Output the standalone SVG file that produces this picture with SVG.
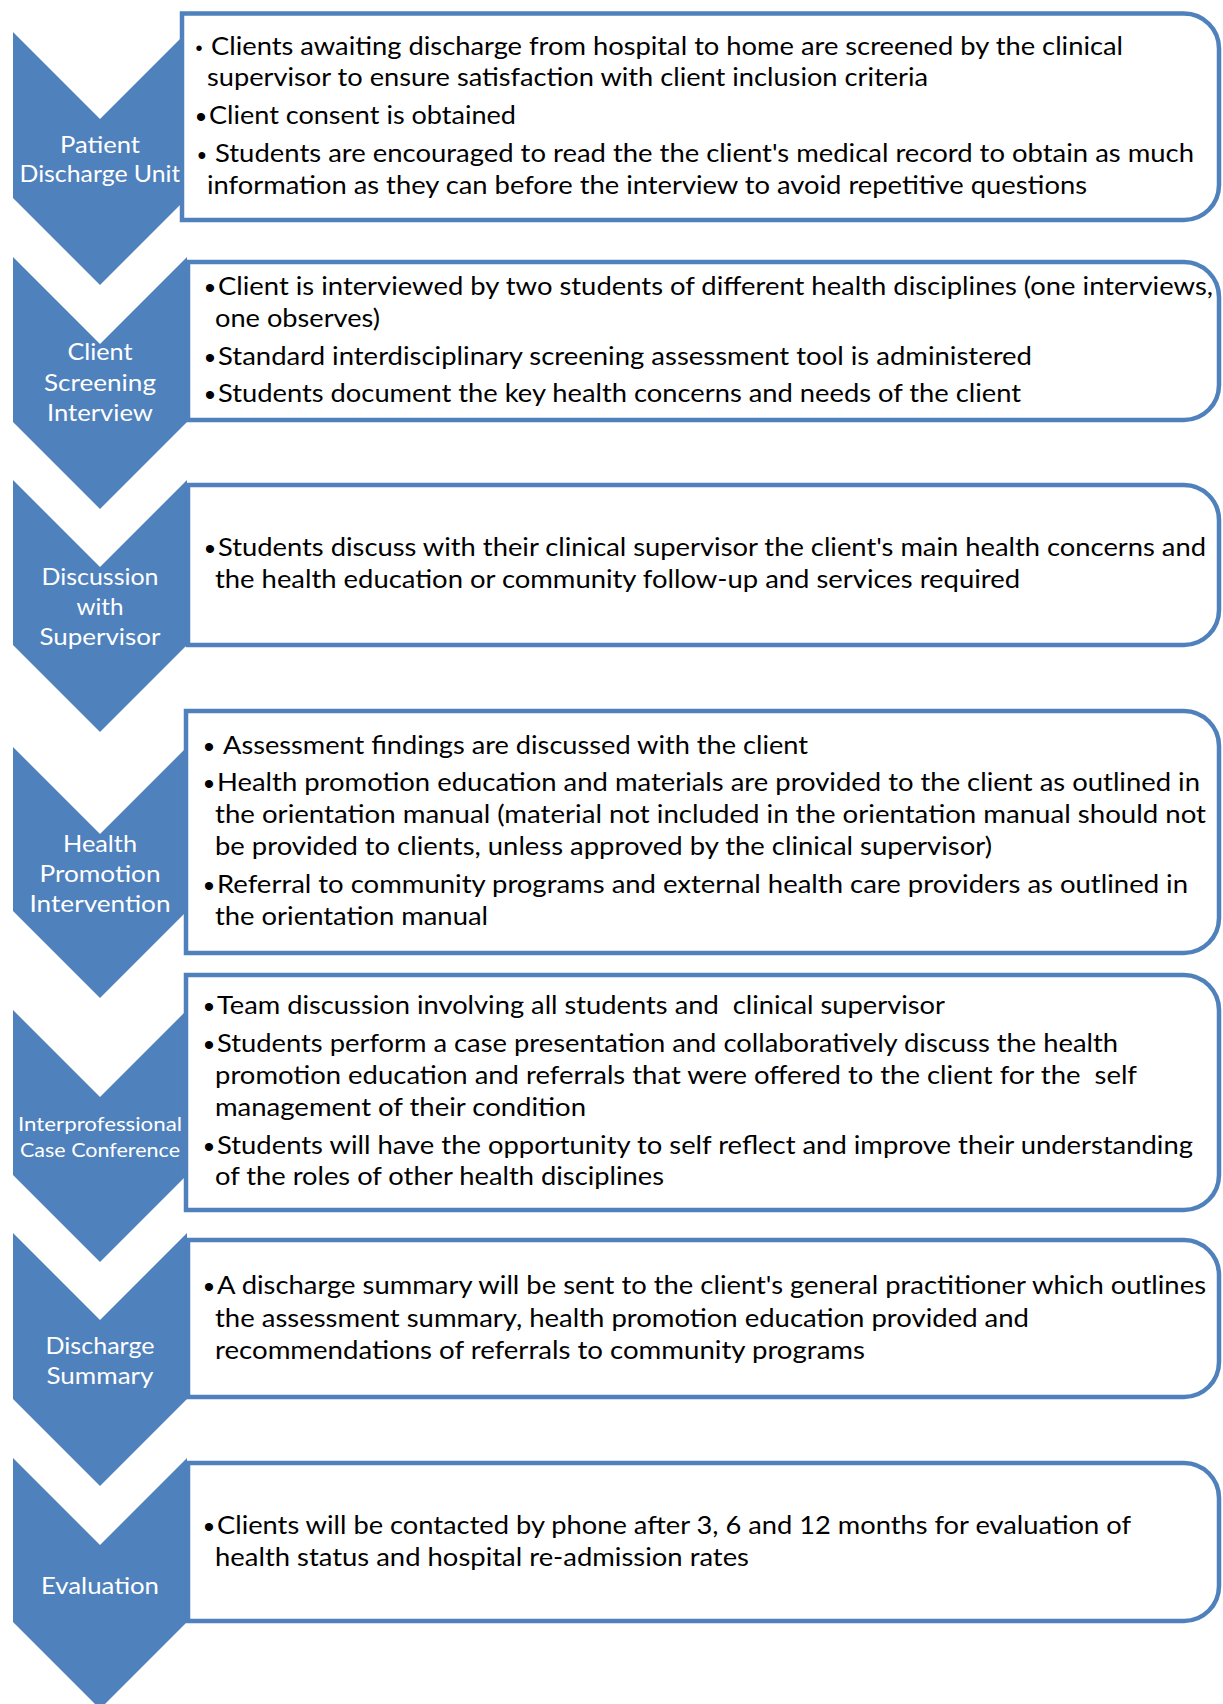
<svg xmlns="http://www.w3.org/2000/svg" width="1223" height="1704" viewBox="0 0 1223 1704">
  <style>
    .chev { fill: #4F81BD; }
    .box { fill: #FFFFFF; stroke: #4F81BD; stroke-width: 4.5; }
    .lbl { font-family: Lato, "Liberation Sans", sans-serif; font-size: 22.5px; fill: #FFFFFF; text-anchor: middle; }
    .lbl-s { font-family: Lato, "Liberation Sans", sans-serif; font-size: 19px; fill: #FFFFFF; text-anchor: middle; }
    .txt { font-family: Lato, "Liberation Sans", sans-serif; font-size: 25px; fill: #000000; }
    .bul { font-family: "Liberation Sans", sans-serif; font-size: 30px; fill: #000000; text-anchor: middle; }
    .bul-s { font-family: "Liberation Sans", sans-serif; font-size: 20px; fill: #000000; text-anchor: middle; }
  </style>

  <!-- Step chevrons (drawn first, boxes overlap their right edge) -->
  <g id="chevrons">
    <path id="chev-patient" class="chev" d="M13,32 L100,119 L187,32 L187,198 L100,285 L13,198 Z"/>
    <path id="chev-screening" class="chev" d="M13,257 L100,344 L187,257 L187,422 L100,509 L13,422 Z"/>
    <path id="chev-discussion" class="chev" d="M13,480 L100,567 L187,480 L187,645 L100,732 L13,645 Z"/>
    <path id="chev-promotion" class="chev" d="M13,747 L100,834 L187,747 L187,911 L100,998 L13,911 Z"/>
    <path id="chev-conference" class="chev" d="M13,1010 L100,1097 L187,1010 L187,1175 L100,1262 L13,1175 Z"/>
    <path id="chev-summary" class="chev" d="M13,1233 L100,1320 L187,1233 L187,1399 L100,1486 L13,1399 Z"/>
    <path id="chev-evaluation" class="chev" d="M13,1458 L100,1545 L187,1458 L187,1622 L100,1709 L13,1622 Z"/>
  </g>

  <!-- Step 1 -->
  <g id="step-patient-discharge">
    <text class="lbl" x="100" y="153" textLength="80" lengthAdjust="spacingAndGlyphs">Patient</text>
    <text class="lbl" x="100" y="182" textLength="161" lengthAdjust="spacingAndGlyphs">Discharge Unit</text>
    <path class="box" d="M182,13.5 H1184 A35,35 0 0 1 1219,48.5 V185 A35,35 0 0 1 1184,220 H182 Z"/>
    <text class="bul-s" x="199" y="55">•</text>
    <text class="txt" x="211" y="55" textLength="912" lengthAdjust="spacingAndGlyphs">Clients awaiting discharge from hospital to home are screened by the clinical</text>
    <text class="txt" x="207" y="86" textLength="721" lengthAdjust="spacingAndGlyphs">supervisor to ensure satisfaction with client inclusion criteria</text>
    <text class="bul" x="201" y="127">•</text>
    <text class="txt" x="209" y="124" textLength="307" lengthAdjust="spacingAndGlyphs">Client consent is obtained</text>
    <text class="bul" x="202" y="164" style="font-size:25px">•</text>
    <text class="txt" x="215" y="162" textLength="979" lengthAdjust="spacingAndGlyphs">Students are encouraged to read the the client's medical record to obtain as much</text>
    <text class="txt" x="207" y="194" textLength="880" lengthAdjust="spacingAndGlyphs">information as they can before the interview to avoid repetitive questions</text>
  </g>

  <!-- Step 2 -->
  <g id="step-client-screening">
    <text class="lbl" x="100" y="360" textLength="65" lengthAdjust="spacingAndGlyphs">Client</text>
    <text class="lbl" x="100" y="391" textLength="112" lengthAdjust="spacingAndGlyphs">Screening</text>
    <text class="lbl" x="100" y="421" textLength="106" lengthAdjust="spacingAndGlyphs">Interview</text>
    <path class="box" d="M188,262 H1184 A35,35 0 0 1 1219,297 V385 A35,35 0 0 1 1184,420 H188 Z"/>
    <text class="bul" x="210" y="298">•</text>
    <text class="txt" x="218" y="295" textLength="995" lengthAdjust="spacingAndGlyphs">Client is interviewed by two students of different health disciplines (one interviews,</text>
    <text class="txt" x="215" y="327" textLength="165" lengthAdjust="spacingAndGlyphs">one observes)</text>
    <text class="bul" x="210" y="368">•</text>
    <text class="txt" x="218" y="365" textLength="814" lengthAdjust="spacingAndGlyphs">Standard interdisciplinary screening assessment tool is administered</text>
    <text class="bul" x="210" y="405">•</text>
    <text class="txt" x="218" y="402" textLength="803" lengthAdjust="spacingAndGlyphs">Students document the key health concerns and needs of the client</text>
  </g>

  <!-- Step 3 -->
  <g id="step-discussion-supervisor">
    <text class="lbl" x="100" y="585" textLength="117" lengthAdjust="spacingAndGlyphs">Discussion</text>
    <text class="lbl" x="100" y="615" textLength="47" lengthAdjust="spacingAndGlyphs">with</text>
    <text class="lbl" x="100" y="645" textLength="121" lengthAdjust="spacingAndGlyphs">Supervisor</text>
    <path class="box" d="M188,485 H1184 A35,35 0 0 1 1219,520 V610 A35,35 0 0 1 1184,645 H188 Z"/>
    <text class="bul" x="210" y="559">•</text>
    <text class="txt" x="218" y="556" textLength="988" lengthAdjust="spacingAndGlyphs">Students discuss with their clinical supervisor the client's main health concerns and</text>
    <text class="txt" x="215" y="588" textLength="805" lengthAdjust="spacingAndGlyphs">the health education or community follow-up and services required</text>
  </g>

  <!-- Step 4 -->
  <g id="step-health-promotion">
    <text class="lbl" x="100" y="852" textLength="74" lengthAdjust="spacingAndGlyphs">Health</text>
    <text class="lbl" x="100" y="882" textLength="121" lengthAdjust="spacingAndGlyphs">Promotion</text>
    <text class="lbl" x="100" y="912" textLength="141" lengthAdjust="spacingAndGlyphs">Intervention</text>
    <path class="box" d="M186,711 H1184 A35,35 0 0 1 1219,746 V918 A35,35 0 0 1 1184,953 H186 Z"/>
    <text class="bul" x="209" y="757">•</text>
    <text class="txt" x="223" y="754" textLength="585" lengthAdjust="spacingAndGlyphs">Assessment findings are discussed with the client</text>
    <text class="bul" x="209" y="794">•</text>
    <text class="txt" x="217" y="791" textLength="983" lengthAdjust="spacingAndGlyphs">Health promotion education and materials are provided to the client as outlined in</text>
    <text class="txt" x="215" y="823" textLength="991" lengthAdjust="spacingAndGlyphs">the orientation manual (material not included in the orientation manual should not</text>
    <text class="txt" x="215" y="855" textLength="777" lengthAdjust="spacingAndGlyphs">be provided to clients, unless approved by the clinical supervisor)</text>
    <text class="bul" x="209" y="896">•</text>
    <text class="txt" x="217" y="893" textLength="971" lengthAdjust="spacingAndGlyphs">Referral to community programs and external health care providers as outlined in</text>
    <text class="txt" x="215" y="925" textLength="273" lengthAdjust="spacingAndGlyphs">the orientation manual</text>
  </g>

  <!-- Step 5 -->
  <g id="step-case-conference">
    <text class="lbl-s" x="100" y="1131" textLength="164" lengthAdjust="spacingAndGlyphs">Interprofessional</text>
    <text class="lbl-s" x="100" y="1157" textLength="160" lengthAdjust="spacingAndGlyphs">Case Conference</text>
    <path class="box" d="M186,975 H1184 A35,35 0 0 1 1219,1010 V1175 A35,35 0 0 1 1184,1210 H186 Z"/>
    <text class="bul" x="209" y="1017">•</text>
    <text class="txt" x="217" y="1014" textLength="728" lengthAdjust="spacingAndGlyphs" xml:space="preserve">Team discussion involving all students and  clinical supervisor</text>
    <text class="bul" x="209" y="1055">•</text>
    <text class="txt" x="217" y="1052" textLength="901" lengthAdjust="spacingAndGlyphs">Students perform a case presentation and collaboratively discuss the health</text>
    <text class="txt" x="215" y="1084" textLength="922" lengthAdjust="spacingAndGlyphs" xml:space="preserve">promotion education and referrals that were offered to the client for the  self</text>
    <text class="txt" x="215" y="1116" textLength="371" lengthAdjust="spacingAndGlyphs">management of their condition</text>
    <text class="bul" x="209" y="1157">•</text>
    <text class="txt" x="217" y="1154" textLength="976" lengthAdjust="spacingAndGlyphs">Students will have the opportunity to self reflect and improve their understanding</text>
    <text class="txt" x="215" y="1185" textLength="449" lengthAdjust="spacingAndGlyphs">of the roles of other health disciplines</text>
  </g>

  <!-- Step 6 -->
  <g id="step-discharge-summary">
    <text class="lbl" x="100" y="1354" textLength="109" lengthAdjust="spacingAndGlyphs">Discharge</text>
    <text class="lbl" x="100" y="1384" textLength="107" lengthAdjust="spacingAndGlyphs">Summary</text>
    <path class="box" d="M188,1240 H1184 A35,35 0 0 1 1219,1275 V1362 A35,35 0 0 1 1184,1397 H188 Z"/>
    <text class="bul" x="209" y="1297">•</text>
    <text class="txt" x="217" y="1294" textLength="989" lengthAdjust="spacingAndGlyphs">A discharge summary will be sent to the client's general practitioner which outlines</text>
    <text class="txt" x="215" y="1327" textLength="814" lengthAdjust="spacingAndGlyphs">the assessment summary, health promotion education provided and</text>
    <text class="txt" x="215" y="1359" textLength="650" lengthAdjust="spacingAndGlyphs">recommendations of referrals to community programs</text>
  </g>

  <!-- Step 7 -->
  <g id="step-evaluation">
    <text class="lbl" x="100" y="1594" textLength="118" lengthAdjust="spacingAndGlyphs">Evaluation</text>
    <path class="box" d="M188,1463 H1184 A35,35 0 0 1 1219,1498 V1586 A35,35 0 0 1 1184,1621 H188 Z"/>
    <text class="bul" x="209" y="1537">•</text>
    <text class="txt" x="217" y="1534" textLength="914" lengthAdjust="spacingAndGlyphs">Clients will be contacted by phone after 3, 6 and 12 months for evaluation of</text>
    <text class="txt" x="215" y="1566" textLength="534" lengthAdjust="spacingAndGlyphs">health status and hospital re-admission rates</text>
  </g>
</svg>
